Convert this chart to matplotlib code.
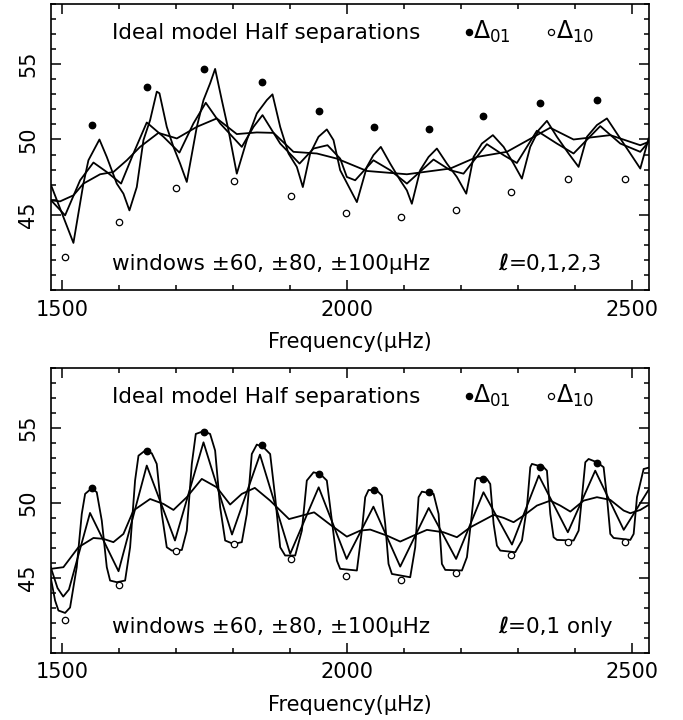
import matplotlib
matplotlib.use("Agg")
import matplotlib.pyplot as plt
from matplotlib.ticker import MultipleLocator

# ---------------- data ----------------
d01_freq = [1552, 1649, 1749, 1851, 1951, 2047, 2143, 2239, 2338, 2438]
d01_val = [50.95, 53.47, 54.69, 53.84, 51.91, 50.82, 50.73, 51.57, 52.40, 52.64]
d10_freq = [1505, 1600, 1699, 1801, 1901, 1998, 2095, 2191, 2288, 2388, 2488]
d10_val = [42.17, 44.49, 46.75, 47.22, 46.26, 45.11, 44.82, 45.31, 46.51, 47.35, 47.35]

# top panel: l=0,1,2,3 ; windows 60, 80, 100 muHz
top_w60_f = [1480.7, 1519.9, 1537.4, 1546.2, 1565.5, 1578.4, 1595.9, 1607.6, 1618.1, 1631, 1642.7,
             1654.4, 1666.1, 1670.8, 1683.6, 1695.3, 1707, 1718.7, 1736.3, 1748, 1759.6, 1768.4,
             1780.1, 1791.8, 1806.4, 1824, 1841.5, 1859.1, 1869, 1882.5, 1897.1, 1911.7, 1922.2,
             1935.1, 1949.7, 1964.3, 1976, 1987.7, 2017, 2034.5, 2046, 2059, 2075.4, 2093, 2104.7,
             2113.4, 2128, 2142.7, 2157.3, 2174.8, 2192.4, 2208.8, 2221.6, 2236.2, 2255.5, 2274.3,
             2291.8, 2306.4, 2321, 2335.7, 2350.3, 2367.8, 2388.3, 2405.8, 2420.5, 2438, 2455.5,
             2473, 2496.5, 2514, 2528.6]
top_w60_v = [46.96, 43.13, 47.07, 48.62, 50.0, 48.84, 47.07, 46.4, 45.29, 46.84, 49.96,
             51.29, 53.18, 53.07, 50.84, 49.51, 48.4, 47.18, 50.84, 52.62, 53.73, 54.69,
             52.62, 50.62, 47.73, 49.96, 51.73, 52.62, 53.0, 50.84, 49.07, 48.18, 46.84,
             49.07, 50.18, 50.67, 49.96, 47.96, 45.84, 48.18, 48.96, 49.51, 48.4, 47.29, 46.62,
             45.73, 47.96, 48.84, 49.4, 48.4, 47.51, 46.4, 48.84, 49.73, 50.29, 49.51,
             48.4, 47.4, 49.51, 50.62, 51.24, 50.18, 49.07, 48.18, 50.18, 50.96, 51.4,
             50.4, 49.07, 48.07, 50.07]

top_w80_f = [1480.7, 1505.3, 1531.6, 1555, 1578.4, 1603.5, 1625.1, 1648.5, 1677.8, 1705.8, 1730.4,
             1752, 1777.2, 1815.2, 1835.7, 1851.5, 1882.5, 1916.4, 1941, 1965.5, 1987.7, 1999.4,
             2014, 2046, 2075.4, 2104.7, 2151.4, 2180.7, 2204, 2245, 2274.3, 2297.6, 2332.7,
             2367.8, 2397, 2443.8, 2479, 2514, 2528.6]
top_w80_v = [45.96, 44.96, 47.29, 48.47, 47.84, 47.07, 49.07, 51.13, 50.18, 49.13, 51.07,
             52.44, 51.07, 49.51, 50.84, 51.62, 49.73, 48.4, 49.4, 49.62, 48.73, 47.51,
             47.29, 48.62, 47.96, 47.07, 48.67, 47.96, 47.73, 49.69, 48.96, 48.44, 50.58,
             49.73, 49.07, 50.89, 49.73, 49.18, 49.84]

top_w100_f = [1480.7, 1496.5, 1519.9, 1537.4, 1566.7, 1590, 1613.5, 1636.8, 1669, 1701.2, 1736.3,
              1771.3, 1806.4, 1841.5, 1870.8, 1905.8, 1946.8, 1981.9, 2034.5, 2104.7, 2180.7,
              2227.5, 2280, 2356, 2397, 2461.4, 2514, 2528.6]
top_w100_v = [45.96, 45.89, 46.29, 47.07, 47.69, 47.84, 48.62, 49.51, 50.44, 50.07, 50.84,
              51.4, 50.36, 50.47, 50.44, 49.18, 49.07, 48.73, 47.91, 47.69, 48.07,
              48.84, 49.18, 50.78, 50.0, 50.29, 49.62, 49.84]

# bottom panel: l=0,1 only ; windows 60, 80, 100 muHz
bot_w60_f = [1480, 1487.7, 1493.6, 1505.3, 1514, 1525.7, 1534.5, 1540.4, 1552, 1560.8, 1569.6,
             1578.4, 1584.2, 1596, 1610.5, 1619.3, 1628, 1634, 1645.6, 1657.3, 1666, 1674.9,
             1683.6, 1692.4, 1710, 1718.7, 1727.5, 1734.5, 1748, 1759.6, 1768.4, 1777.2, 1786,
             1800.6, 1815.2, 1824, 1832.7, 1841.5, 1853.2, 1864.9, 1873.7, 1882.5, 1891.2,
             1908.8, 1920.5, 1929.2, 1941, 1952.6, 1964.3, 1970.2, 1981.9, 1987.7, 2017,
             2025.8, 2031.6, 2037.5, 2052.1, 2060.8, 2066.7, 2072.5, 2078.4, 2110.5, 2119.3,
             2125.2, 2131, 2151.5, 2160.3, 2166.1, 2172, 2201.2, 2210, 2218.7, 2224.6, 2227.5,
             2245, 2250.9, 2256.8, 2262.6, 2268.5, 2294.8, 2306.5, 2315.2, 2321.1, 2324,
             2344.5, 2350.3, 2356.2, 2362, 2367.9, 2397.1, 2405.9, 2411.7, 2417.6, 2423.4,
             2438, 2449.7, 2455.6, 2461.4, 2467.3, 2496.5, 2502.4, 2508.2, 2519.9, 2531.6]
bot_w60_v = [45.02, 43.47, 42.8, 42.64, 43.0, 45.69, 49.24, 50.58, 50.96, 50.69, 48.8,
             45.69, 44.8, 44.69, 44.8, 47.02, 51.47, 53.13, 53.47, 53.29, 52.58, 49.24,
             47.02, 46.8, 46.84, 48.13, 52.58, 54.58, 54.76, 54.58, 53.47, 49.69, 47.47,
             47.24, 47.36, 49.24, 53.24, 53.87, 53.69, 53.24, 50.36, 47.02, 46.47,
             46.47, 48.13, 51.47, 52.02, 51.91, 51.47, 49.69, 46.13, 45.58, 45.47,
             48.13, 50.36, 50.84, 50.8, 50.47, 48.58, 45.91, 45.24, 45.02, 47.02,
             50.36, 50.73, 50.58, 49.24, 45.91, 45.51, 45.47, 46.36, 49.24, 51.47, 51.64,
             51.58, 51.24, 48.58, 47.13, 46.8, 46.69, 47.47, 49.69, 52.36, 52.58,
             52.36, 52.13, 49.24, 47.69, 47.51, 47.47, 48.13, 50.36, 52.69, 52.91,
             52.69, 52.36, 50.36, 47.91, 47.64, 47.51, 47.91, 50.36, 52.24, 52.36]

bot_w80_f = [1480, 1492, 1502, 1512, 1549, 1599, 1648.5, 1698, 1748, 1798, 1847, 1900, 1950,
             1999, 2046, 2093, 2143, 2191, 2239, 2289, 2336, 2387, 2435, 2485, 2531]
bot_w80_v = [45.7, 44.3, 43.73, 44.2, 49.31, 45.42, 52.47, 47.47, 54.02, 47.87, 53.2, 46.58, 51.02,
             46.24, 49.73, 45.73, 49.64, 46.24, 50.69, 47.2, 51.8, 48.02, 52.13, 48.18, 51.0]

bot_w100_f = [1480, 1502.3, 1528.7, 1555, 1572.5, 1590, 1607.6, 1625.1, 1654.4, 1677.8, 1695.3,
              1718.7, 1745, 1771.3, 1794.7, 1815.2, 1838, 1864.9, 1898, 1942, 1970.2, 1999.4,
              2022.8, 2040.4, 2069.6, 2093, 2116.4, 2139.8, 2169, 2192.4, 2215.8, 2256.8, 2274.3,
              2291.8, 2309.3, 2332.7, 2356.2, 2373.7, 2391.3, 2414.6, 2438, 2461.4, 2484.8,
              2496.5, 2514, 2531.6]
bot_w100_v = [45.58, 45.69, 47.02, 47.64, 47.58, 47.36, 47.91, 49.47, 50.24, 49.91, 49.51,
              50.36, 51.58, 51.02, 49.87, 50.58, 50.98, 50.13, 48.9, 49.35, 48.53, 47.73,
              48.13, 48.2, 47.8, 47.4, 47.8, 48.18, 48.02, 47.69, 48.35, 49.18, 48.98,
              48.69, 49.13, 49.8, 50.13, 49.8, 49.4, 50.13, 50.36, 50.18, 49.47,
              49.29, 49.51, 49.91]

x_ticks = [1500, 2000, 2500]
y_ticks = [45, 50, 55]
x_lim = (1480, 2530)
y_lim = (40, 59)

title_text = "Ideal model Half separations"
window_text = "windows \u00b160, \u00b180, \u00b1100\u03bcHz"
ell_texts = ["=0,1,2,3", "=0,1 only"]
xlabel = "Frequency(\u03bcHz)"

# ---------------- drawing ----------------
plt.rcParams['font.family'] = ['DejaVu Sans']
plt.rcParams['mathtext.fontset'] = 'dejavusans'
fig = plt.figure(figsize=(6.83, 7.2), dpi=100)
ax_top = fig.add_axes([0.0742, 0.5972, 0.8766, 0.3972])
ax_bot = fig.add_axes([0.0742, 0.09375, 0.8766, 0.3956])

panels = [
    (ax_top, [(top_w60_f, top_w60_v), (top_w80_f, top_w80_v), (top_w100_f, top_w100_v)], ell_texts[0]),
    (ax_bot, [(bot_w60_f, bot_w60_v), (bot_w80_f, bot_w80_v), (bot_w100_f, bot_w100_v)], ell_texts[1]),
]

for ax, curves, elltxt in panels:
    for f, v in curves:
        ax.plot(f, v, color='black', lw=1.3, solid_joinstyle='round', zorder=2)
    ax.plot(d01_freq, d01_val, 'o', color='black', ms=4.6, zorder=3)
    ax.plot(d10_freq, d10_val, 'o', mfc='white', mec='black', mew=0.9, ms=4.6, zorder=3)

    ax.set_xlim(*x_lim)
    ax.set_ylim(*y_lim)
    ax.set_xticks(x_ticks)
    ax.set_yticks(y_ticks)
    ax.xaxis.set_minor_locator(MultipleLocator(100))
    ax.yaxis.set_minor_locator(MultipleLocator(1))
    ax.tick_params(which='both', direction='in', top=True, right=True, width=1.1, colors='black')
    ax.tick_params(which='major', length=7.5)
    ax.tick_params(which='minor', length=3.8)
    ax.tick_params(axis='x', which='major', labelsize=15, pad=7)
    ax.tick_params(axis='y', which='major', labelsize=15, pad=9)
    for lab in ax.get_yticklabels():
        lab.set_rotation(90)
        lab.set_va('center')
    for s in ax.spines.values():
        s.set_linewidth(1.2)
    ax.set_xlabel(xlabel, fontsize=15, labelpad=9)

    # header text
    ax.text(1587, 56.67, title_text, fontsize=15.5, ha='left', va='baseline')
    ax.plot([2214], [57.13], 'o', color='black', ms=4.4)
    ax.text(2221, 56.67, r'$\Delta_{01}$', fontsize=17, ha='left', va='baseline')
    ax.plot([2358], [57.13], 'o', mfc='white', mec='black', mew=0.9, ms=4.4)
    ax.text(2366, 56.67, r'$\Delta_{10}$', fontsize=17, ha='left', va='baseline')

    # lower text
    ax.text(1587, 41.33, window_text, fontsize=15.5, ha='left', va='baseline')
    t_ell = ax.text(2265, 41.33, "\u2113", fontsize=15.5, ha='left', va='baseline',
                    fontweight='bold', fontstyle='italic')
    ax.annotate(elltxt, xy=(1, 0), xycoords=t_ell, ha='left', va='bottom', fontsize=15.5)

fig.savefig("out.png", dpi=100)
